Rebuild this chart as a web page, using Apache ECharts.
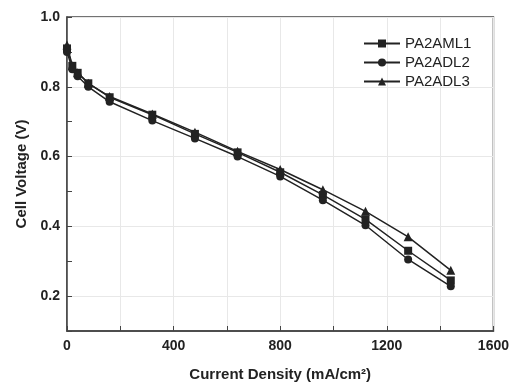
<!DOCTYPE html>
<html>
<head>
<meta charset="utf-8">
<script src="https://cdn.jsdelivr.net/npm/echarts@6/dist/echarts.min.js"></script>
<style>
  html, body { margin: 0; padding: 0; background: #fff; }
  #main { width: 512px; height: 387px; }
</style>
</head>
<body>
<div id="main"></div>
<script>
// current density (mA/cm2)
var currentDensity = [0, 20, 40, 80, 160, 320, 480, 640, 800, 960, 1120, 1280, 1440];
// cell voltage (V)
var pa2aml1 = [0.91, 0.86, 0.84, 0.81, 0.77, 0.72, 0.665, 0.612, 0.555, 0.49, 0.42, 0.33, 0.245];
var pa2adl2 = [0.90, 0.85, 0.83, 0.80, 0.757, 0.703, 0.652, 0.60, 0.543, 0.475, 0.403, 0.305, 0.228];
var pa2adl3 = [0.92, 0.86, 0.84, 0.81, 0.772, 0.722, 0.67, 0.615, 0.563, 0.505, 0.443, 0.37, 0.274];
var seriesNames = ['PA2AML1', 'PA2ADL2', 'PA2ADL3'];
var xTickLabels = ['0', '400', '800', '1200', '1600'];
var yTickLabels = ['0.2', '0.4', '0.6', '0.8', '1.0'];

function pairs(ys) {
    var out = [];
    for (var i = 0; i < ys.length; i++) {
        out.push([currentDensity[i], ys[i]]);
    }
    return out;
}

var dark = '#222';
var myChart = echarts.init(document.getElementById('main'));

function makeSeries(name, ys, symbol, size) {
    return {
        name: name,
        type: 'line',
        data: pairs(ys),
        symbol: symbol,
        symbolSize: size,
        showAllSymbol: true,
        lineStyle: {color: dark, width: 1.5},
        itemStyle: {color: dark},
        z: 3
    };
}

myChart.setOption({
    animation: false,
    grid: {
        left: 67, right: 18, top: 17, bottom: 55,
        show: true,
        borderColor: '#444',
        borderWidth: 1.5
    },
    legend: {
        orient: 'vertical',
        left: 363,
        top: 36,
        padding: 0,
        itemWidth: 36,
        itemHeight: 10,
        itemGap: 4,
        textStyle: {fontFamily: 'Liberation Sans', fontSize: 15, color: dark},
        data: seriesNames
    },
    xAxis: {
        type: 'value',
        min: 0,
        max: 1600,
        interval: 200,
        name: 'Current Density (mA/cm²)',
        nameLocation: 'middle',
        nameGap: 36,
        nameTextStyle: {fontFamily: 'Liberation Sans', fontWeight: 'bold', fontSize: 15, color: dark},
        axisLine: {lineStyle: {color: '#444', width: 1.5}},
        axisTick: {inside: true, length: 5, lineStyle: {color: '#444'}},
        axisLabel: {
            margin: 8,
            fontFamily: 'Liberation Sans', fontWeight: 'bold', fontSize: 14, color: dark,
            formatter: function (v) {
                var s = String(v);
                return xTickLabels.indexOf(s) >= 0 ? s : '';
            }
        },
        splitLine: {show: true, lineStyle: {color: '#e8e8e8', width: 1}}
    },
    yAxis: {
        type: 'value',
        min: 0.1,
        max: 1.0,
        interval: 0.1,
        name: 'Cell Voltage (V)',
        nameLocation: 'middle',
        nameGap: 38,
        nameTextStyle: {fontFamily: 'Liberation Sans', fontWeight: 'bold', fontSize: 15, color: dark},
        axisLine: {show: true, lineStyle: {color: '#444', width: 1.5}},
        axisTick: {show: true, inside: true, length: 5, lineStyle: {color: '#444'}},
        axisLabel: {
            margin: 7,
            fontFamily: 'Liberation Sans', fontWeight: 'bold', fontSize: 14, color: dark,
            formatter: function (v) {
                var s = v.toFixed(1);
                return yTickLabels.indexOf(s) >= 0 ? s : '';
            }
        },
        // grid lines only at the labelled values
        splitLine: {show: true, lineStyle: {color: ['transparent', '#e8e8e8'], width: 1}}
    },
    series: [
        makeSeries(seriesNames[0], pa2aml1, 'rect', 8),
        makeSeries(seriesNames[1], pa2adl2, 'circle', 8),
        makeSeries(seriesNames[2], pa2adl3, 'triangle', 9)
    ]
});
</script>
</body>
</html>
